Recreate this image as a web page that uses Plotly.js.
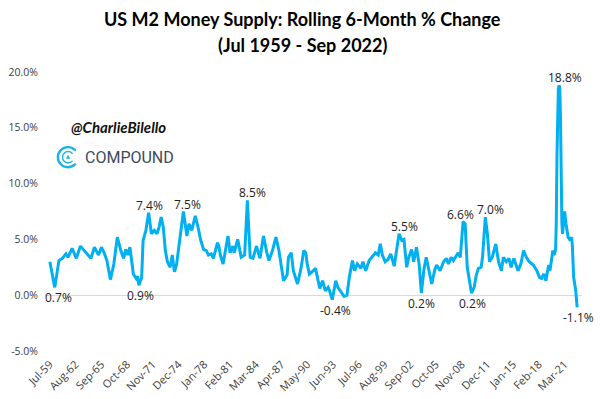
<!DOCTYPE html>
<html>
<head>
<meta charset="utf-8">
<script src="https://cdn.plot.ly/plotly-3.0.1.min.js"></script>
<style>html,body{margin:0;padding:0;background:#fff;}#chart{width:602px;height:399px;}</style>
</head>
<body>
<div id="chart"></div>
<script>
// ---- data ----
const dates = [
"1959-07","1960-02","1960-08","1961-01","1961-06","1961-09","1962-03","1962-09","1963-03","1963-08",
"1963-12","1964-06","1964-11","1965-05","1965-09","1966-01","1966-05","1966-10","1967-03","1967-08",
"1968-01","1968-05","1968-08","1968-11","1969-02","1969-07","1969-11","1970-01","1970-03","1970-07",
"1970-09","1971-01","1971-05","1971-09","1972-01","1972-05","1972-08","1972-11","1973-02","1973-05",
"1973-08","1973-12","1974-03","1974-06","1974-09","1975-02","1975-07","1975-12","1976-03","1976-07",
"1976-12","1977-04","1977-08","1977-12","1978-04","1978-07","1978-11","1979-02","1979-08","1979-10",
"1979-12","1980-04","1980-11","1981-02","1981-06","1981-08","1982-01","1982-06","1982-11","1983-03",
"1983-07","1983-11","1984-04","1984-09","1985-02","1985-07","1985-10","1986-03","1986-08","1986-12",
"1987-03","1987-07","1987-12","1988-02","1988-06","1988-09","1989-03","1989-08","1989-12","1990-03",
"1990-05","1990-08","1990-12","1991-05","1991-07","1991-11","1992-03","1992-07","1992-11","1993-01",
"1993-05","1993-07","1993-10","1994-01","1994-05","1994-10","1995-02","1995-06","1995-10","1996-01",
"1996-05","1996-10","1997-01","1997-05","1997-10","1998-02","1998-07","1998-11","1999-02","1999-05",
"1999-09","2000-01","2000-05","2000-10","2001-01","2001-05","2001-09","2001-12","2002-04","2002-07",
"2002-11","2003-02","2003-06","2003-10","2004-01","2004-05","2004-08","2004-12","2005-04","2005-08",
"2005-11","2006-04","2006-09","2007-01","2007-04","2007-08","2007-11","2008-04","2008-06","2008-09",
"2009-01","2009-04","2009-07","2009-11","2010-01","2010-05","2010-08","2010-11","2011-03","2011-05",
"2011-09","2011-12","2012-03","2012-07","2012-12","2013-04","2013-08","2013-11","2014-03","2014-07",
"2014-10","2015-02","2015-05","2015-08","2015-12","2016-04","2016-08","2016-12","2017-06","2017-11",
"2018-03","2018-06","2018-09","2018-12","2019-04","2019-06","2019-10","2019-12","2020-02","2020-03",
"2020-04","2020-05","2020-06","2020-07","2020-08","2020-09","2020-10","2020-11","2020-12","2021-01",
"2021-03","2021-05","2021-08","2021-11","2022-01","2022-02","2022-04","2022-07","2022-09"
];
const m2Change = [
3.0,0.7,3.1,3.3,3.7,3.4,4.2,3.3,4.4,4.0,
3.7,3.3,4.3,3.6,4.3,3.8,3.1,1.4,2.8,5.2,
4.0,3.3,4.1,3.6,4.3,1.9,1.5,1.7,0.9,1.6,
4.9,5.8,7.4,5.5,5.8,5.5,6.1,7.0,6.1,4.0,
3.0,2.5,3.6,2.1,2.7,4.9,7.5,5.3,6.4,5.8,
7.1,6.1,4.9,4.1,4.0,3.6,3.7,3.3,4.7,4.4,
3.6,2.8,5.3,3.8,4.4,3.8,5.0,3.4,3.6,8.5,
3.4,3.3,4.4,3.3,5.3,3.8,3.1,4.0,5.2,4.1,
2.8,1.3,1.8,3.4,3.8,2.2,1.0,2.4,4.0,3.8,
2.8,1.9,2.1,2.4,1.8,0.6,1.3,0.4,0.7,0.4,
-0.4,0.4,1.3,0.7,0.3,-0.1,0.0,1.8,3.1,2.2,
2.8,2.4,3.0,2.2,3.1,3.4,3.8,3.6,4.6,3.6,
3.0,3.2,3.7,2.6,4.0,5.5,4.9,5.0,2.5,3.4,
4.1,3.0,4.3,2.7,0.2,2.4,3.4,2.2,1.0,2.2,
2.7,2.2,3.0,3.3,2.8,3.4,3.1,3.6,3.8,3.4,
6.6,6.4,2.5,1.0,0.2,0.7,1.8,2.4,2.5,3.4,
7.0,5.5,3.0,3.4,4.6,3.0,2.2,3.4,3.0,3.3,
2.5,3.3,2.7,2.2,2.8,4.0,3.4,3.0,2.7,2.2,
1.6,1.5,1.9,1.3,2.7,2.2,4.0,3.6,4.1,6.5,
12.5,17.0,18.5,18.8,18.6,16.0,10.5,6.5,5.5,6.2,
7.5,6.4,5.2,4.9,5.2,4.5,1.6,0.4,-1.1
];
const tickDates = ["1959-07","1962-08","1965-09","1968-10","1971-11","1974-12","1978-01","1981-02","1984-03","1987-04",
"1990-05","1993-06","1996-07","1999-08","2002-09","2005-10","2008-11","2011-12","2015-01","2018-02","2021-03"];
const tickLabels = ["Jul-59","Aug-62","Sep-65","Oct-68","Nov-71","Dec-74","Jan-78","Feb-81","Mar-84","Apr-87",
"May-90","Jun-93","Jul-96","Aug-99","Sep-02","Oct-05","Nov-08","Dec-11","Jan-15","Feb-18","Mar-21"];
const yTicks = [-5, 0, 5, 10, 15, 20];
// labelled extremes (dates of the series points that carry a data label)
const labelDates = ["1960-02","1970-03","1971-05","1975-07","1983-03","1993-05","2001-05","2004-01","2009-01","2010-01","2011-09","2020-07","2022-09"];
const titleLine1 = "US M2 Money Supply: Rolling 6-Month % Change";
const titleLine2 = "(Jul 1959 - Sep 2022)";

// ---- styling (positions of labels relative to their points) ----
const labelSide   = ["below","below","above","above","above","below","above","below","above","below","above","above","below"];
const labelXShift = [4,2,1,4,5,3,5,0,-3,1,5,6,1];

const annotations = labelDates.map((d, i) => {
  const v = m2Change[dates.indexOf(d)];
  const above = labelSide[i] === "above";
  return {
    x: d, y: v, xref: "x", yref: "y", showarrow: false,
    text: v.toFixed(1) + "%",
    xshift: labelXShift[i],
    xanchor: "center",
    yanchor: above ? "bottom" : "top",
    yshift: above ? -3 : 0,
    font: {family: "Open Sans", size: 12, color: "#222222"}
  };
});

const titleFont = {family: "Lato", size: 18, color: "#000000", weight: "bold"};
annotations.push({xref: "paper", yref: "paper", x: 0.479, y: 1.19, xanchor: "center", yanchor: "middle",
  showarrow: false, text: titleLine1, font: titleFont});
annotations.push({xref: "paper", yref: "paper", x: 0.479, y: 1.097, xanchor: "center", yanchor: "middle",
  showarrow: false, text: titleLine2, font: titleFont});

annotations.push({
  xref: "paper", yref: "paper", x: 0.1378, y: 0.803, xanchor: "center", yanchor: "middle", showarrow: false,
  text: "@CharlieBilello",
  font: {family: "Lato", size: 15, color: "#111111", weight: "bold", style: "italic"}
});
annotations.push({
  xref: "paper", yref: "paper", x: 0.0713, y: 0.6935, xanchor: "left", yanchor: "middle", showarrow: false,
  text: "COMPOUND",
  font: {family: "Roboto", size: 16, color: "#3d4a5c"}
});

const logoSvg = '<svg xmlns="http://www.w3.org/2000/svg" width="60" height="60" viewBox="0 0 60 60">' +
  '<path d="M47 12 A25 25 0 1 0 47 48" fill="none" stroke="#1fb1e6" stroke-width="6" stroke-linecap="round"/>' +
  '<path d="M40 20 A14 14 0 1 0 40 40" fill="none" stroke="#1fb1e6" stroke-width="3.5" stroke-linecap="round"/>' +
  '<path d="M30 24 L35.5 34 L24.5 34 Z" fill="#1fb1e6"/></svg>';

const trace = {
  x: dates, y: m2Change, type: "scatter", mode: "lines",
  line: {color: "#00b0f0", width: 3}, hoverinfo: "skip"
};

const layout = {
  width: 602, height: 399,
  margin: {l: 45, r: 20, t: 72, b: 48},
  paper_bgcolor: "#ffffff", plot_bgcolor: "#ffffff",
  showlegend: false,
  xaxis: {
    type: "date", range: ["1958-12-01", "2023-04-01"],
    tickvals: tickDates, ticktext: tickLabels, tickangle: -45,
    showgrid: false, zeroline: false, showline: false, ticks: "",
    tickfont: {family: "Open Sans", size: 11, color: "#404040"},
    ticklabelstandoff: 4
  },
  yaxis: {
    range: [-5, 20], tickvals: yTicks, ticktext: yTicks.map(v => v.toFixed(1) + "%"),
    showgrid: false, zeroline: true, zerolinecolor: "#d9d9d9", zerolinewidth: 1,
    showline: false, ticks: "",
    tickfont: {family: "Open Sans", size: 10.5, color: "#404040"},
    ticklabelstandoff: 6
  },
  annotations: annotations,
  images: [{
    source: "data:image/svg+xml;base64," + btoa(logoSvg),
    xref: "paper", yref: "paper", x: 0.0205, y: 0.738, sizex: 0.045, sizey: 0.0866,
    xanchor: "left", yanchor: "top", sizing: "contain", layer: "above"
  }]
};

Plotly.newPlot("chart", [trace], layout, {staticPlot: true, displayModeBar: false});
</script>
</body>
</html>
